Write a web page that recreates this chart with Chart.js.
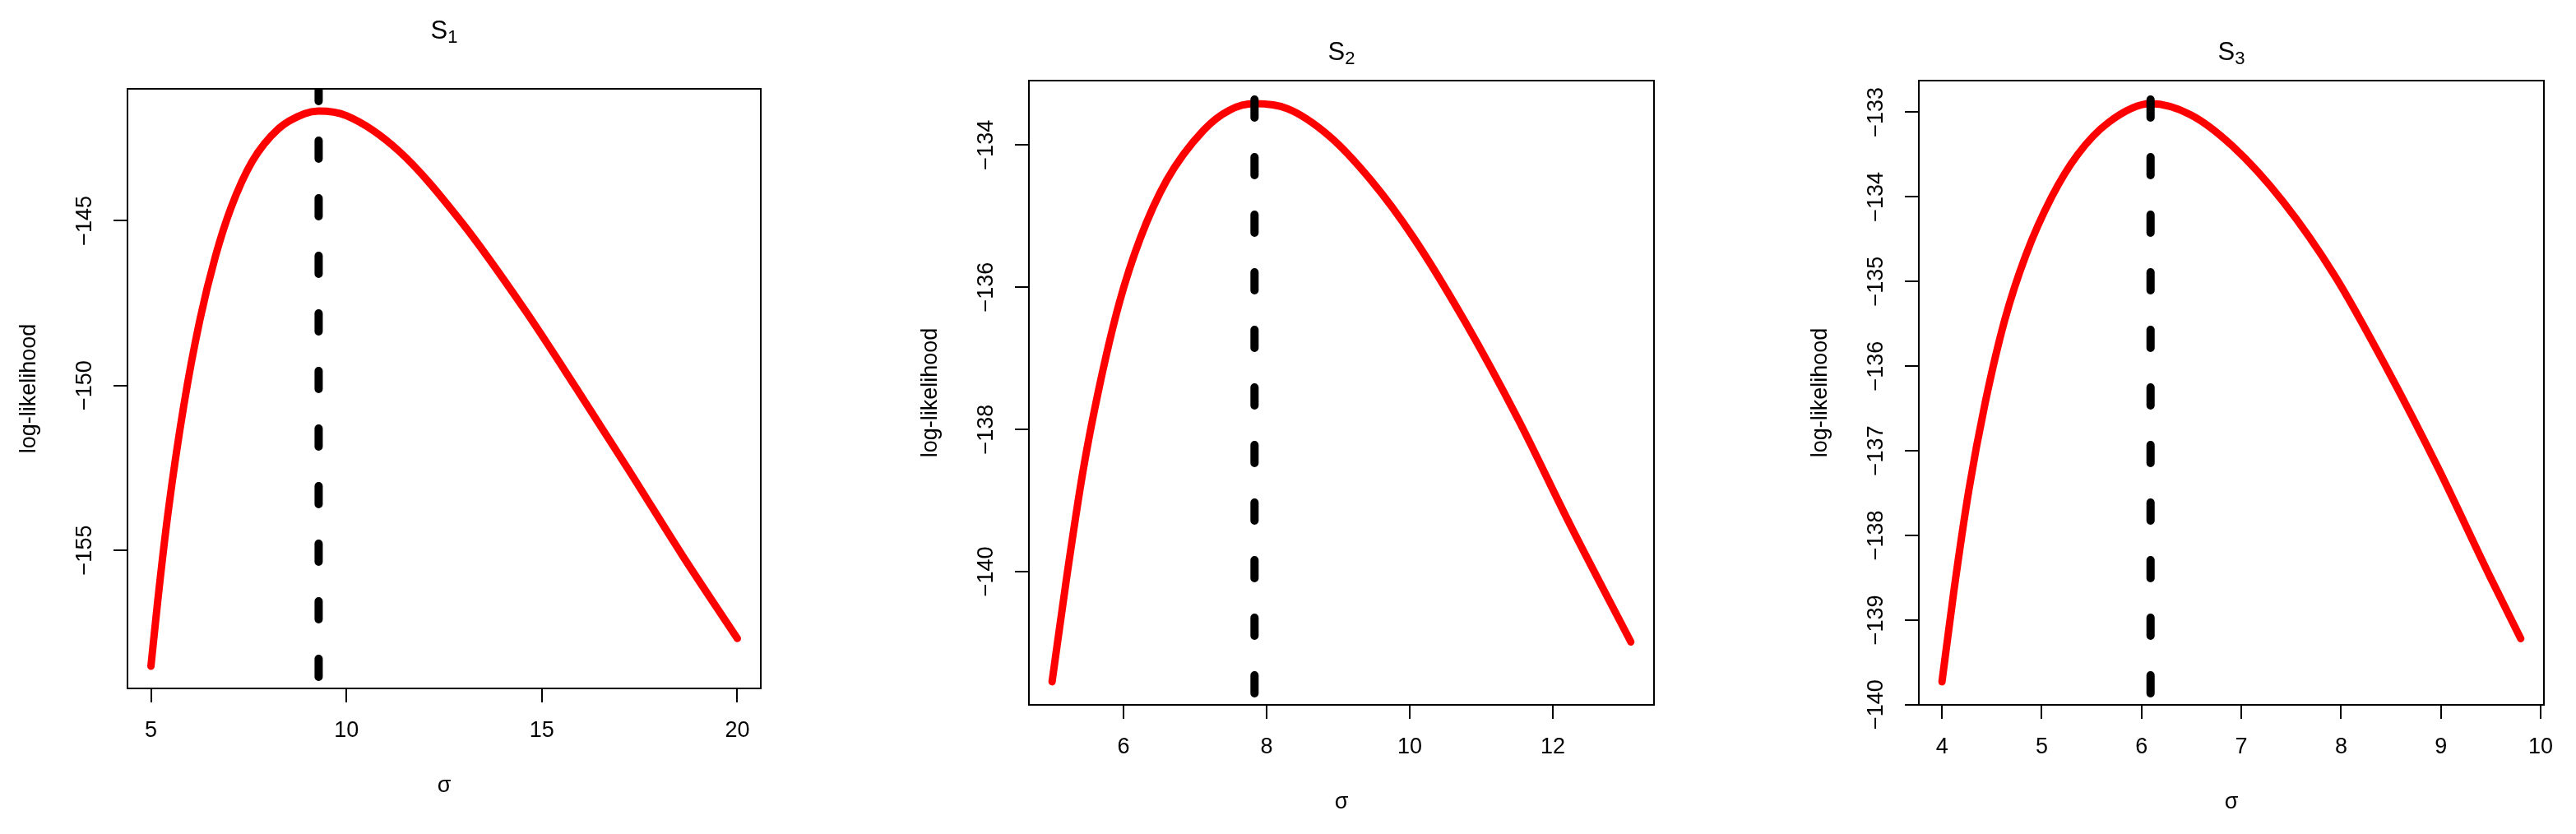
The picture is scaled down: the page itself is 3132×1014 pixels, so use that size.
<!DOCTYPE html>
<html>
<head>
<meta charset="utf-8">
<script src="https://cdn.jsdelivr.net/npm/chart.js@4.4.1/dist/chart.umd.min.js"></script>
<style>
  html, body { margin: 0; padding: 0; background: #fff; }
  body { width: 3132px; height: 1014px; position: relative; overflow: hidden; }
  canvas { position: absolute; top: 0; }
</style>
</head>
<body>
<canvas id="c1" width="1000" height="1014" style="left:0px"></canvas>
<canvas id="c2" width="1080" height="1014" style="left:1000px"></canvas>
<canvas id="c3" width="1052" height="1014" style="left:2080px"></canvas>
<script>
/* ---- data ---- */
const SIGMA_1 = [5.0, 5.17, 5.44, 5.84, 6.25, 6.65, 7.05, 7.59, 8.26, 8.93, 9.29, 10.0, 11.34, 12.95, 14.56, 15.9, 17.24, 18.58, 20.0];
const LL_1    = [-158.52, -156.58, -153.84, -150.61, -148.02, -146.08, -144.6, -143.2, -142.21, -141.75, -141.67, -141.81, -142.88, -145.05, -147.7, -150.12, -152.6, -155.13, -157.68];
const MLE_1   = 9.29;
const XTICKS_1 = [5, 10, 15, 20];
const YTICKS_1 = [-145, -150, -155];

const SIGMA_2 = [5.0, 5.21, 5.43, 5.65, 5.94, 6.23, 6.6, 7.12, 7.48, 7.83, 8.29, 8.88, 9.46, 10.05, 10.78, 11.52, 12.25, 13.09];
const LL_2    = [-141.55, -140.04, -138.6, -137.45, -136.22, -135.32, -134.5, -133.79, -133.51, -133.42, -133.49, -133.88, -134.5, -135.3, -136.5, -137.87, -139.36, -140.99];
const MLE_2   = 7.83;
const XTICKS_2 = [6, 8, 10, 12];
const YTICKS_2 = [-134, -136, -138, -140];

const SIGMA_3 = [4.0, 4.12, 4.27, 4.43, 4.63, 4.84, 5.1, 5.36, 5.67, 6.09, 6.49, 6.91, 7.42, 7.94, 8.45, 8.97, 9.48, 9.8];
const LL_3    = [-139.73, -138.65, -137.46, -136.45, -135.45, -134.69, -134.0, -133.5, -133.12, -132.9, -133.03, -133.4, -134.06, -134.94, -136.01, -137.2, -138.46, -139.22];
const MLE_3   = 6.09;
const XTICKS_3 = [4, 5, 6, 7, 8, 9, 10];
const YTICKS_3 = [-133, -134, -135, -136, -137, -138, -139, -140];

const FONT = { family: '"Liberation Sans", Arial, sans-serif', size: 27 };
const fmt = v => String(v).replace('-', '\u2212');

// R-style extras: box, rotated y tick labels, plotmath-like title
const rPlot = {
  id: 'rPlot',
  afterDraw(chart, args, opts) {
    const { ctx, chartArea: a } = chart;
    const y = chart.scales.y;
    ctx.save();
    ctx.strokeStyle = '#000';
    ctx.lineWidth = 2;
    ctx.strokeRect(a.left, a.top, a.right - a.left, a.bottom - a.top);

    ctx.fillStyle = '#000';
    ctx.font = `27px ${FONT.family}`;
    ctx.textAlign = 'center';
    ctx.textBaseline = 'middle';
    y.ticks.forEach(t => {
      const py = y.getPixelForValue(t.value);
      ctx.save();
      ctx.translate(a.left - 51, py);
      ctx.rotate(-Math.PI / 2);
      ctx.fillText(fmt(t.value), 0, 0);
      ctx.restore();
    });

    // title S with subscript
    ctx.textAlign = 'left';
    ctx.textBaseline = 'alphabetic';
    ctx.font = `31px ${FONT.family}`;
    const wS = ctx.measureText('S').width;
    ctx.font = `22px ${FONT.family}`;
    const wSub = ctx.measureText(opts.sub).width;
    const x0 = (a.left + a.right) / 2 - (wS + wSub) / 2;
    ctx.font = `31px ${FONT.family}`;
    ctx.fillText('S', x0, opts.titleY);
    ctx.font = `22px ${FONT.family}`;
    ctx.fillText(opts.sub, x0 + wS, opts.titleY + 5);
    ctx.restore();
  }
};

function ext(arr) {
  const lo = Math.min(...arr), hi = Math.max(...arr), p = (hi - lo) * 0.04;
  return [lo - p, hi + p];
}

function makePanel(id, p) {
  const [xmin, xmax] = ext(p.sigma);
  const [ymin, ymax] = ext(p.ll);
  const grid = { drawOnChartArea: false, drawTicks: true, tickLength: 17, lineWidth: 2, color: '#000' };

  new Chart(document.getElementById(id), {
    type: 'line',
    data: {
      datasets: [
        {
          data: p.sigma.map((s, i) => ({ x: s, y: p.ll[i] })),
          borderColor: '#ff0000',
          borderWidth: 9,
          pointRadius: 0,
          cubicInterpolationMode: 'monotone',
          borderCapStyle: 'round',
          borderJoinStyle: 'round',
          order: 1
        },
        {
          data: [{ x: p.mle, y: ymax }, { x: p.mle, y: ymin }],
          borderColor: '#000',
          borderWidth: 10,
          borderDash: [22, 48],
          borderDashOffset: p.dashOffset,
          borderCapStyle: 'round',
          pointRadius: 0,
          clip: 0,
          order: 0
        }
      ]
    },
    plugins: [rPlot],
    options: {
      responsive: false,
      animation: false,
      devicePixelRatio: 1,
      layout: { padding: { top: p.top, right: p.padRight, left: 0, bottom: 0 } },
      plugins: {
        legend: { display: false },
        tooltip: { enabled: false },
        title: { display: false },
        rPlot: { sub: p.sub, titleY: p.titleY }
      },
      scales: {
        x: {
          type: 'linear', min: xmin, max: xmax,
          afterBuildTicks: s => { s.ticks = p.xticks.map(v => ({ value: v })); },
          afterFit: s => { s.height = p.xAxisH; },
          grid, border: { display: false },
          ticks: { color: '#000', font: FONT, padding: 18, maxRotation: 0, autoSkip: false, callback: v => fmt(v) },
          title: { display: true, text: 'σ', color: '#000', font: FONT, padding: { top: 0, bottom: p.sigmaPad } }
        },
        y: {
          type: 'linear', min: ymin, max: ymax,
          afterBuildTicks: s => { s.ticks = p.yticks.map(v => ({ value: v })); },
          afterFit: s => { s.width = p.yAxisW; },
          grid, border: { display: false },
          ticks: { display: false },
          title: { display: true, text: 'log-likelihood', color: '#000', font: FONT, padding: { top: p.ylabPad, bottom: 0 } }
        }
      }
    }
  });
}

makePanel('c1', { sigma: SIGMA_1, ll: LL_1, mle: MLE_1, xticks: XTICKS_1, yticks: YTICKS_1, sub: '1',
  top: 108, padRight: 75, yAxisW: 155, xAxisH: 177, ylabPad: 19.8, sigmaPad: 41.8, titleY: 47, dashOffset: 7 });
makePanel('c2', { sigma: SIGMA_2, ll: LL_2, mle: MLE_2, xticks: XTICKS_2, yticks: YTICKS_2, sub: '2',
  top: 98, padRight: 69, yAxisW: 251, xAxisH: 157, ylabPad: 115.8, sigmaPad: 21.8, titleY: 73, dashOffset: 47 });
makePanel('c3', { sigma: SIGMA_3, ll: LL_3, mle: MLE_3, xticks: XTICKS_3, yticks: YTICKS_3, sub: '3',
  top: 98, padRight: 39, yAxisW: 253, xAxisH: 157, ylabPad: 117.8, sigmaPad: 21.8, titleY: 73, dashOffset: 47 });
</script>
</body>
</html>
